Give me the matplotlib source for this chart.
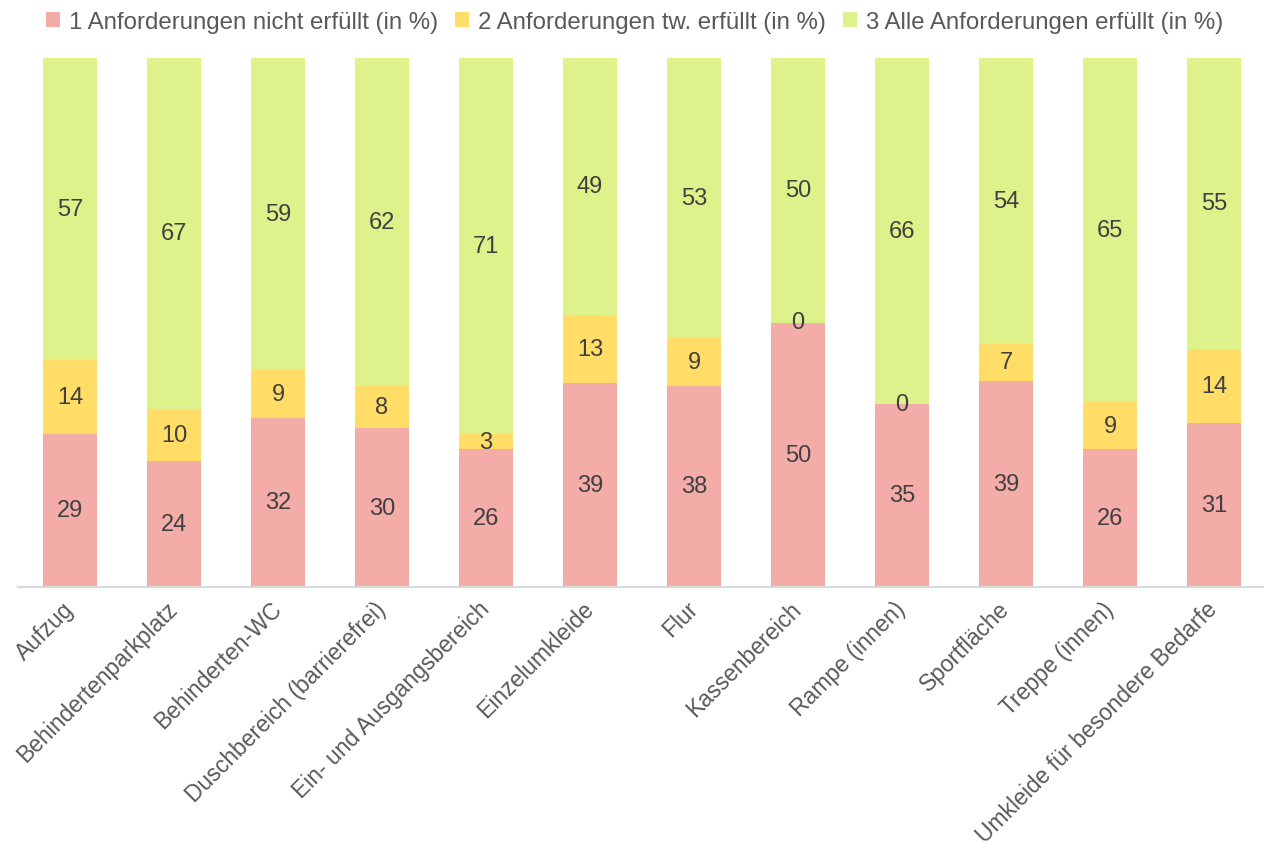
import numpy as np
import matplotlib
matplotlib.use("Agg")
import matplotlib.pyplot as plt

plt.rcParams['font.family'] = ['Liberation Sans', 'DejaVu Sans']

categories = ["Aufzug", "Behindertenparkplatz", "Behinderten-WC", "Duschbereich (barrierefrei)",
              "Ein- und Ausgangsbereich", "Einzelumkleide", "Flur", "Kassenbereich",
              "Rampe (innen)", "Sportfläche", "Treppe (innen)", "Umkleide für besondere Bedarfe"]
nicht_erfuellt = [29, 24, 32, 30, 26, 39, 38, 50, 35, 39, 26, 31]
tw_erfuellt = [14, 10, 9, 8, 3, 13, 9, 0, 0, 7, 9, 14]
alle_erfuellt = [57, 67, 59, 62, 71, 49, 53, 50, 66, 54, 65, 55]
series_names = ["1 Anforderungen nicht erfüllt (in %)", "2 Anforderungen tw. erfüllt (in %)",
                "3 Alle Anforderungen erfüllt (in %)"]
colors = ["#F4ACA8", "#FFDD66", "#DDF28A"]

raw = np.array([nicht_erfuellt, tw_erfuellt, alle_erfuellt], dtype=float)
share = raw / raw.sum(axis=0) * 100

fig = plt.figure(figsize=(12.64, 8.53), dpi=100)
ax = fig.add_axes([18/1264, 1 - 588/853, 1248/1264, 529/853])

x = np.arange(len(categories))
bottom = np.zeros(len(categories))
for i in range(3):
    bars = ax.bar(x, share[i], 0.52, bottom=bottom, color=colors[i], label=series_names[i])
    ax.bar_label(bars, labels=[str(int(v)) for v in raw[i]], label_type='center',
                 fontsize=17, color="#404040")
    bottom += share[i]

ax.set_xlim(-0.5, len(categories) - 0.5)
ax.set_ylim(0, 100)
ax.set_yticks([])
for s in ["top", "right", "left"]:
    ax.spines[s].set_visible(False)
ax.spines["bottom"].set_color("#D9D9D9")
ax.spines["bottom"].set_linewidth(1.5)
ax.set_xticks(x)
ax.set_xticklabels(categories, rotation=45, ha='right', va='center', rotation_mode='anchor',
                   fontsize=16.5, color="#595959")
ax.tick_params(axis='x', length=0, pad=13)

fig.legend(loc='upper center', bbox_to_anchor=(0.502, 1.011), ncol=3, frameon=False,
           fontsize=17.3, labelcolor="#595959", handlelength=0.58, handleheight=0.58,
           handletextpad=0.38, columnspacing=0.7)

fig.savefig("out.png", dpi=100)
